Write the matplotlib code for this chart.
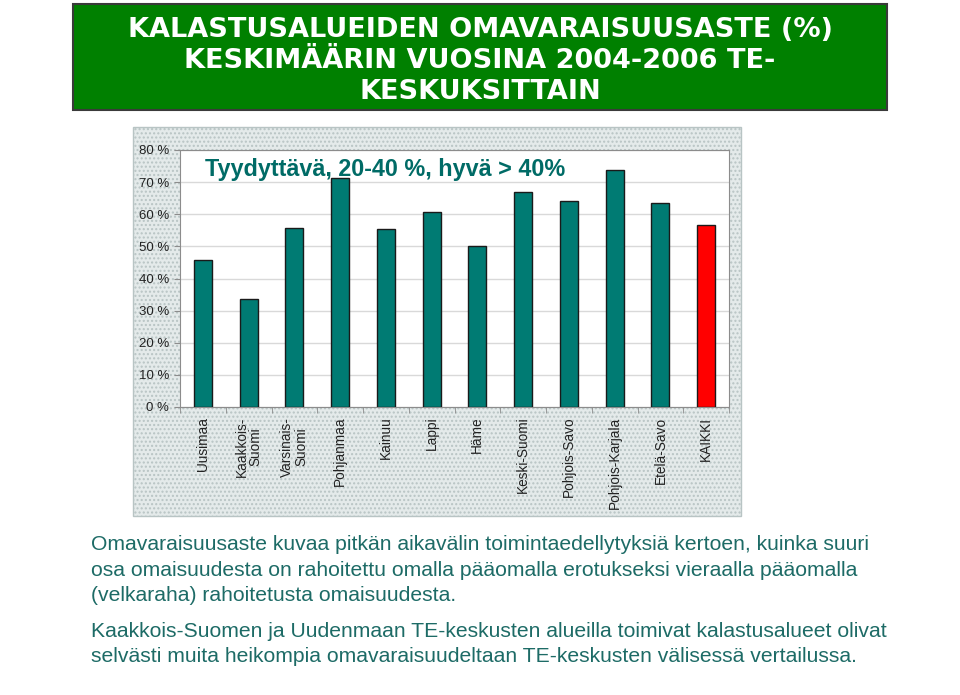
"""Omavaraisuusaste TE-keskuksittain: pylväskaavio kalvopohjalla."""
import matplotlib
matplotlib.use("Agg")
import matplotlib.pyplot as plt
from matplotlib.patches import Rectangle
from matplotlib.ticker import FuncFormatter, MultipleLocator

plt.rcParams["font.family"] = ["Liberation Sans", "DejaVu Sans"]
plt.rcParams["hatch.color"] = "#cdd6d6"

regions = ["Uusimaa", "Kaakkois-\nSuomi", "Varsinais-\nSuomi", "Pohjanmaa", "Kainuu",
           "Lappi", "Häme", "Keski-Suomi", "Pohjois-Savo", "Pohjois-Karjala",
           "Etelä-Savo", "KAIKKI"]
share = [45.7, 33.5, 55.6, 71.4, 55.3, 60.8, 50.1, 67.0, 64.1, 73.7, 63.6, 56.8]

TEAL = "#007b73"
RED = "#ff0000"
TXT = "#1d6b66"
colors = [TEAL] * (len(share) - 1) + [RED]

fig = plt.figure(figsize=(9.6, 6.95), dpi=100)
W, H = 960, 695


def fx(px):
    return px / W


def fy(py):
    return 1 - py / H


# otsikkolaatikko
fig.patches.append(Rectangle((fx(73), fy(110)), fx(887) - fx(73), fy(4) - fy(110),
                             transform=fig.transFigure, fc="#008000", ec="#3a3a3a",
                             lw=1.5, zorder=-2))
title = ["KALASTUSALUEIDEN OMAVARAISUUSASTE (%)",
         "KESKIMÄÄRIN VUOSINA 2004-2006 TE-",
         "KESKUKSITTAIN"]
for i, ln in enumerate(title):
    fig.text(0.5, fy(37 + 31 * i), ln, ha="center", va="baseline", color="white",
             fontsize=19.5, fontweight="bold", family=["DejaVu Sans"])

# kaavioalue (pisteytetty tausta)
fig.patches.append(Rectangle((fx(133), fy(516)), fx(741) - fx(133), fy(127) - fy(516),
                             transform=fig.transFigure, fc="#e4eaea", ec="#b8c4c4",
                             lw=1, hatch="....", zorder=-2))

ax = fig.add_axes([fx(180), fy(407), fx(729) - fx(180), fy(150) - fy(407)])
ax.set_zorder(2)
ax.set_facecolor("white")
x = range(len(share))
ax.bar(x, share, width=0.39, color=colors, edgecolor="#1a1a1a", lw=1, zorder=3)
ax.set_xlim(-0.5, len(share) - 0.5)
ax.set_ylim(0, 80)
ax.yaxis.set_major_locator(MultipleLocator(10))
ax.yaxis.set_major_formatter(FuncFormatter(lambda v, p: f"{v:.0f} %"))
ax.grid(axis="y", color="#d9d9d9", lw=1, zorder=0)
for s in ax.spines.values():
    s.set_color("#8c8c8c")
ax.set_xticks(list(x))
ax.set_xticklabels(regions, rotation=90, fontsize=9.8, color="#222222",
                   linespacing=1.0)
ax.set_xticks([i + 0.5 for i in range(-1, len(share))], minor=True)
ax.tick_params(axis="x", which="major", length=0, pad=7)
ax.tick_params(axis="x", which="minor", length=4, color="#8c8c8c")
ax.tick_params(axis="y", labelsize=9.5, colors="#222222", length=4, pad=4)
ax.tick_params(axis="y", color="#8c8c8c")

ax.text(0.045, 0.925, "Tyydyttävä, 20-40 %, hyvä > 40%", transform=ax.transAxes,
        ha="left", va="center", fontsize=16.8, fontweight="bold", color="#006b66",
        zorder=5)

body = ["Omavaraisuusaste kuvaa pitkän aikavälin toimintaedellytyksiä kertoen, kuinka suuri",
        "osa omaisuudesta on rahoitettu omalla pääomalla erotukseksi vieraalla pääomalla",
        "(velkaraha) rahoitetusta omaisuudesta.",
        "Kaakkois-Suomen ja Uudenmaan TE-keskusten alueilla toimivat kalastusalueet olivat",
        "selvästi muita heikompia omavaraisuudeltaan TE-keskusten välisessä vertailussa."]
baselines = [550, 576, 601, 637, 662]
for ln, yb in zip(body, baselines):
    fig.text(fx(91), fy(yb), ln, ha="left", va="baseline", fontsize=15.2, color=TXT)

fig.savefig("out.png", dpi=100, facecolor="white")
